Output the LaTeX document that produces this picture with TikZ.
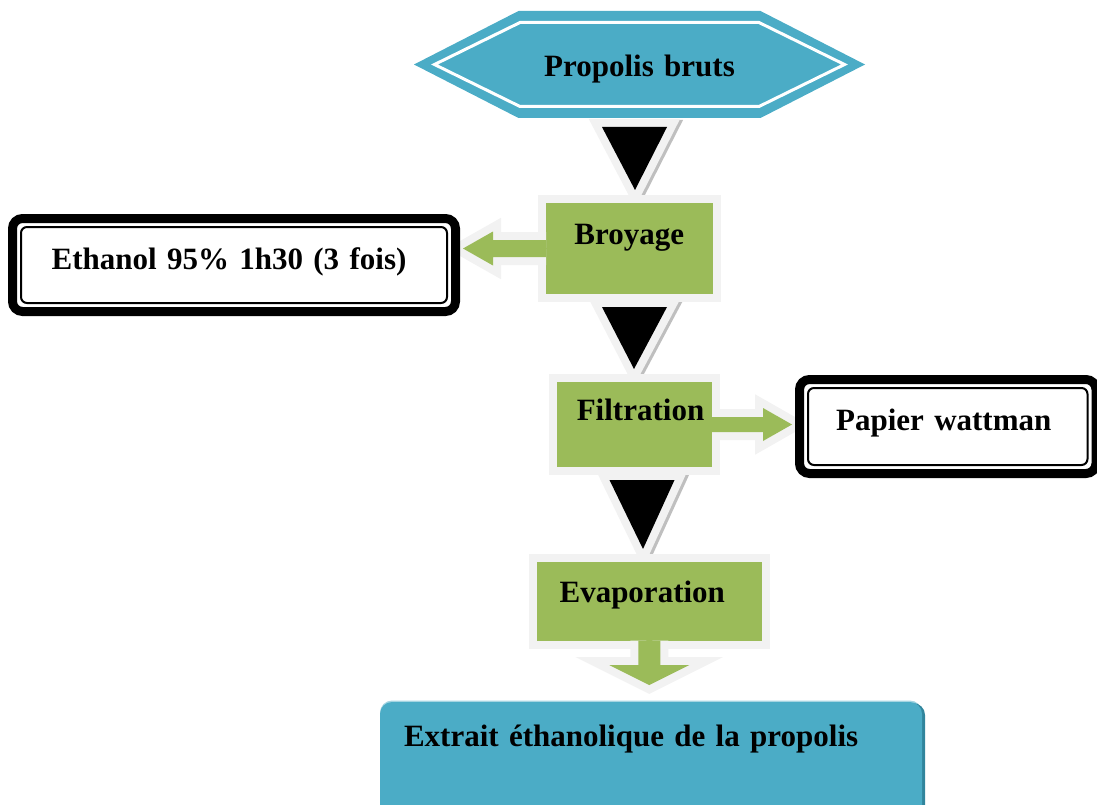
\documentclass[tikz,border=0pt]{standalone}
\usepackage{fontspec}
\setmainfont{Liberation Serif}
\usetikzlibrary{calc,backgrounds}

\definecolor{propblue}{HTML}{4BACC6}
\definecolor{propbluedark}{HTML}{31859C}
\definecolor{propbluelight}{HTML}{A5D5E2}
\definecolor{stepgreen}{HTML}{9BBB59}
\definecolor{rimgrey}{HTML}{F2F2F2}
\definecolor{shadegrey}{HTML}{BFBFBF}

\tikzset{
  lbl/.style={font=\fontsize{31}{37}\selectfont\bfseries, inner sep=0pt, outer sep=0pt, align=center},
  stepbox/.style={lbl, fill=stepgreen, draw=rimgrey, line width=8pt},
  ringbox/.style={lbl, fill=white, draw=black, line width=9pt, rounded corners=10pt},
  ringline/.style={draw=black, line width=2pt, rounded corners=6pt},
  extbox/.style={lbl, align=left, fill=propblue, rounded corners=12pt,
    preaction={fill=propbluelight, transform canvas={shift={(0,-1.5)}}},
    preaction={fill=propbluedark, transform canvas={shift={(3,1)}}}},
  fatarrow/.style={fill=stepgreen, preaction={draw=rimgrey, line width=16pt}},
  droptri/.style={fill=black,
    preaction={draw=shadegrey, line width=16pt, transform canvas={shift={(3,1)}}},
    preaction={draw=rimgrey, line width=16pt}},
}

% black drop triangle: upper node, lower node, x-shift at top, x-shift at tip
\newcommand{\droparrow}[4]{%
  \path[droptri] ($(#1.south)+(#3-32.5,9)$) -- ($(#1.south)+(#3+32.5,9)$)
    -- ($(#2.north)+(#4,-9)$) -- cycle;}

\begin{document}
\begin{tikzpicture}[x=1pt, y=-1pt]
\useasboundingbox (0,0) rectangle (1097,805);

% start
\coordinate (hexc) at (639.5,64.5);
\fill[propblue, shift={(hexc)}] (-225.5,0) -- (-121,-53.5) -- (121,-53.5) -- (225.5,0)
  -- (121,53.5) -- (-121,53.5) -- cycle;
\draw[white, line width=3pt, shift={(hexc)}] (-205,0) -- (-119.5,-42) -- (119.5,-42) -- (205,0)
  -- (119.5,42) -- (-119.5,42) -- cycle;
\node[lbl, text width=451pt, text height=66pt, text depth=41pt] (hex) at (hexc) {Propolis bruts};

% steps
\node[stepbox, text width=174.5pt, text height=45pt, text depth=54pt] (broy) at (629.25,248.5) {Broyage};
\node[stepbox, text width=163pt, text height=42pt, text depth=51pt] (filt) at (634.5,424.5) {\hspace*{12pt}Filtration};
\node[stepbox, text width=232.5pt, text height=44pt, text depth=42.5pt] (evap) at (649.25,601.25) {\hspace*{-14pt}Evaporation};

% result
\node[extbox, anchor=north west, text width=494pt, inner xsep=24pt, text height=44pt, text depth=90pt]
  (ext) at (380,702) {Extrait éthanolique de la propolis};

% side arrows
\path[fatarrow, shift={(broy.west)}] (4,-8.5) -- (-49,-8.5) -- (-49,-17) -- (-79,0)
  -- (-49,17) -- (-49,8.5) -- (4,8.5);
\path[fatarrow, shift={(filt.east)}] (-4,-7.5) -- (47,-7.5) -- (47,-16.5) -- (76,0)
  -- (47,16.5) -- (47,7.5) -- (-4,7.5);
\path[fatarrow, shift={(evap.south)}] (-11,-4) -- (-11,20.5) -- (-40,20.5) -- (0,40.5)
  -- (40,20.5) -- (11,20.5) -- (11,-4);

% side notes
\node[ringbox, text width=443pt, text height=50.5pt, text depth=42.5pt] (eth) at (234,265)
  {\hspace*{-10pt}Ethanol 95\% 1h30 (3 fois)};
\draw[ringline] ($(eth.north west)+(8.5,8.5)$) rectangle ($(eth.south east)+(-8.5,-8.5)$);
\node[ringbox, text width=296.5pt, text height=50.5pt, text depth=43.5pt] (pap) at (947.75,426.5)
  {\hspace*{-8pt}Papier wattman};
\draw[ringline] ($(pap.north west)+(8.5,8.5)$) rectangle ($(pap.south east)+(-8.5,-8.5)$);

\begin{scope}[on background layer]
\droparrow{hex}{broy}{-5}{5.75}
\droparrow{broy}{filt}{5.25}{-0.5}
\droparrow{filt}{evap}{7.5}{-6.25}
\end{scope}
\end{tikzpicture}
\end{document}
